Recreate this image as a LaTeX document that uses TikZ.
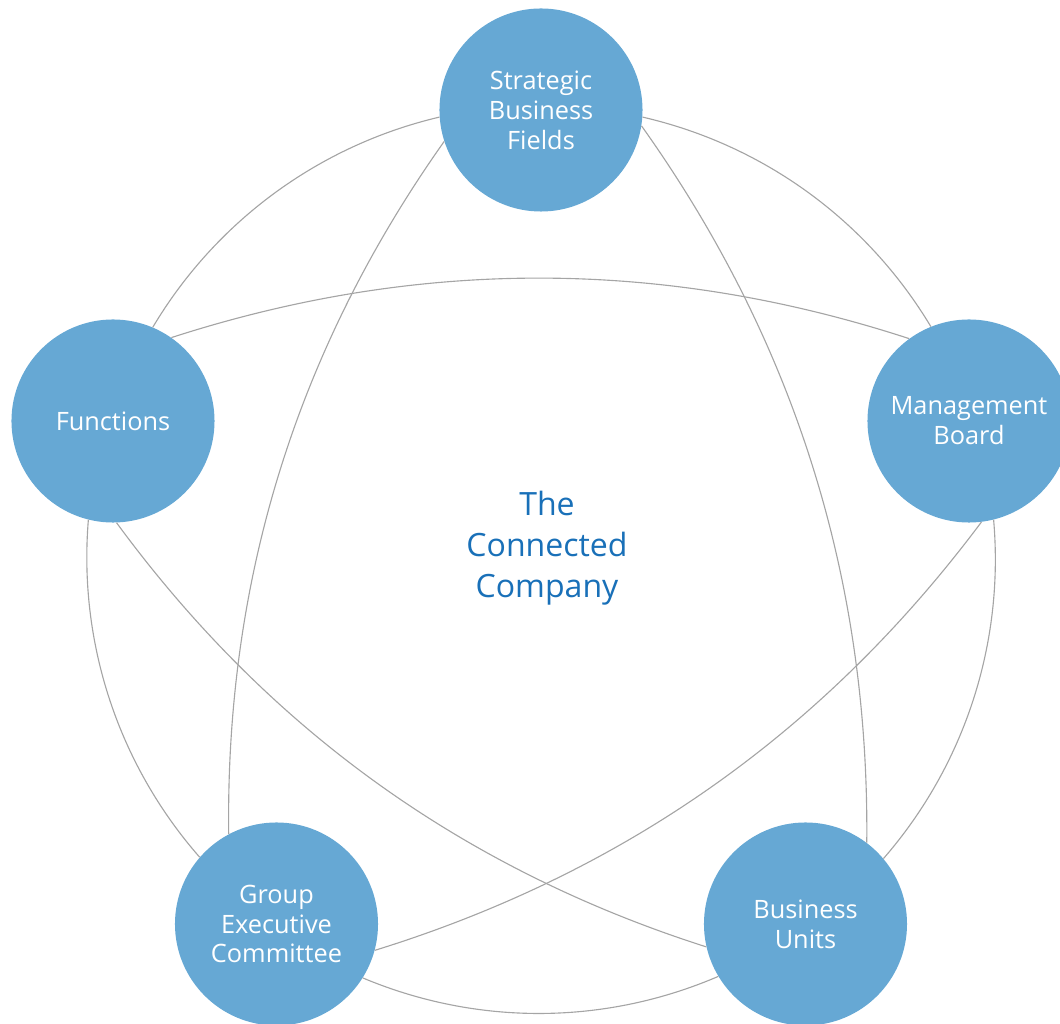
\documentclass[tikz,border=0pt]{standalone}
\usepackage{fontspec}
\setmainfont{Open Sans}
\usetikzlibrary{arrows, shapes}

\definecolor{bubblefill}{RGB}{102,168,212}
\definecolor{hubblue}{RGB}{25,112,184}
\definecolor{wire}{RGB}{165,165,165}

\begin{document}
\begin{tikzpicture}[x=0.025cm, y=0.025cm,
  bubble/.style={circle, fill=bubblefill, text=white, inner sep=0pt,
    minimum size=5.075cm, align=center, font=\fontsize{18}{21.3}\selectfont},
  rimarc/.style={draw=wire, line width=0.8pt, bend left=23, looseness=0.89},
  crossarc/.style={draw=wire, line width=0.8pt, bend left=18, looseness=0.9}]

% Fix the frame first so the cut-off circles do not grow the page.
\useasboundingbox (-541,-464) rectangle (519,560);
\clip (-541,-464) rectangle (519,560);

\node[bubble] (S) at (0,450)       {Strategic\\Business\\Fields};
\node[bubble] (M) at (428,139)     {Management\\Board};
\node[bubble] (U) at (264.5,-364)  {Business\\Units};
\node[bubble] (G) at (-264.5,-364) {Group\\Executive\\Committee};
\node[bubble] (F) at (-428,139)    {Functions};

\node[align=center, text=hubblue, font=\fontsize{22.8}{29}\selectfont] (C) at (6,12)
  {The\\Connected\\Company};

% outer ring
\draw[rimarc] (S.-4.7)   to (M.112.7);
\draw[rimarc] (M.-76.7)  to (U.40.7);
\draw[rimarc] (U.211.3)  to (G.328.7);
\draw[rimarc] (G.139.3)  to (F.256.7);
\draw[rimarc] (F.67.3)   to (S.184.7);

% inner star
\draw[crossarc] (S.-9.6)  to (U.53.4);
\draw[crossarc] (M.-83.2) to (G.-15);
\draw[crossarc] (U.193.6) to (F.272);
\draw[crossarc] (G.118.8) to (S.198.2);
\draw[crossarc] (F.55)    to (M.126.2);
\end{tikzpicture}
\end{document}
